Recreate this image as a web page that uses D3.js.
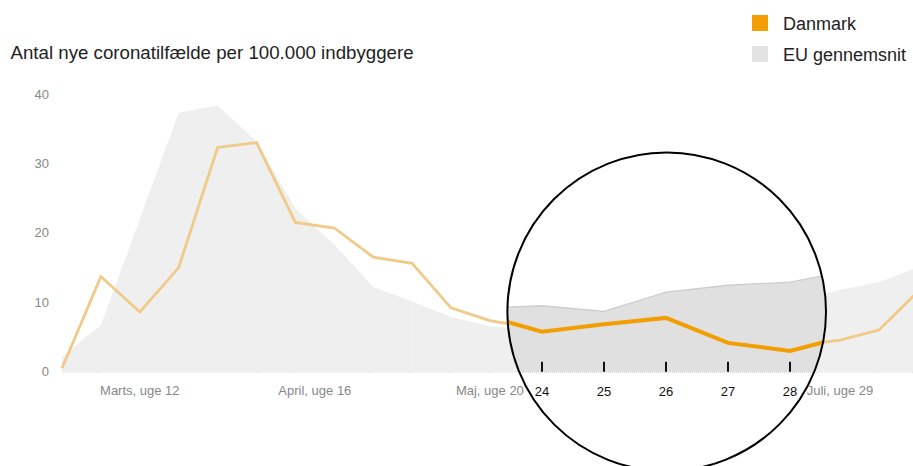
<!DOCTYPE html>
<html>
<head>
<meta charset="utf-8">
<script src="https://cdn.jsdelivr.net/npm/d3@7"></script>
<style>
  html, body { margin: 0; padding: 0; background: #fff; }
  svg { display: block; font-family: "Liberation Sans", Arial, Helvetica, sans-serif; }
</style>
</head>
<body>
<svg id="chart" width="913" height="466"></svg>
<script>
// ---- data ----
const weeks = [10,11,12,13,14,15,16,17,18,19,20,21,22,23,24,25,26,27,28,29,30,31,32];
const danmark = [0.5,13.7,8.6,15.0,32.3,33.0,21.5,20.7,16.5,15.6,9.2,7.35,6.4,6.0,5.75,6.8,7.7,4.2,3.0,3.8,4.55,6.0,11.5];
const euAvg   = [2.2,6.7,22.0,37.3,38.3,33.2,23.5,18.3,12.2,10.1,7.9,6.5,6.3,7.0,7.5,8.0,8.8,9.5,10.0,10.3,11.8,12.9,15.0];

const lensWeeks   = [23,24,25,26,27,28,29];
const lensDanmark = [8.3,5.75,6.85,7.75,4.15,3.0,5.3];
const lensEU      = [9.1,9.5,8.7,11.45,12.45,12.9,14.6];
const lensTicks   = [24,25,26,27,28];

const yTicks = [0,10,20,30,40];
const xLabels = [
  {week: 12,   text: "Marts, uge 12"},
  {week: 16.5, text: "April, uge 16"},
  {week: 21,   text: "Maj, uge 20"},
  {week: 30,   text: "Juli, uge 29"}
];
const title = "Antal nye coronatilfælde per 100.000 indbyggere";
const legendItems = [
  {name: "Danmark", color: "#f29e02"},
  {name: "EU gennemsnit", color: "#e3e3e3"}
];

// ---- layout ----
const svg = d3.select("#chart");
const x = d3.scaleLinear().domain([10, 32]).range([62, 62 + 22 * 38.9]);
const y = d3.scaleLinear().domain([0, 40]).range([371.7, 94]);
const xl = d3.scaleLinear().domain([26, 27]).range([666, 728]);
const lens = {cx: 666.7, cy: 311.7, r: 159.3};

const defs = svg.append("defs");
defs.append("clipPath").attr("id", "plotClip")
  .append("rect").attr("x", 0).attr("y", 0).attr("width", 913).attr("height", 466);
defs.append("clipPath").attr("id", "lensClip")
  .append("circle").attr("cx", lens.cx).attr("cy", lens.cy).attr("r", lens.r - 1);

// title
svg.append("text").attr("x", 10.5).attr("y", 59).attr("font-size", 18.7)
  .attr("fill", "#222").text(title);

// legend
const lg = svg.append("g");
legendItems.forEach((d, i) => {
  lg.append("rect").attr("x", 752).attr("y", 15 + i * 31).attr("width", 16).attr("height", 16).attr("fill", d.color);
  lg.append("text").attr("x", 783).attr("y", 23.5 + i * 31).attr("dy", "0.35em")
    .attr("font-size", 18).attr("fill", "#222").text(d.name);
});

// y axis labels
svg.append("g").selectAll("text").data(yTicks).join("text")
  .attr("x", 49).attr("y", d => y(d)).attr("dy", "0.35em")
  .attr("text-anchor", "end").attr("font-size", 13).attr("fill", "#888")
  .text(d => d);

// main chart
const main = svg.append("g").attr("clip-path", "url(#plotClip)");
const euData = weeks.map((w, i) => ({w, v: euAvg[i]}));
const dkData = weeks.map((w, i) => ({w, v: danmark[i]}));

main.append("path").datum(euData)
  .attr("fill", "#efefef")
  .attr("d", d3.area().x(d => x(d.w)).y0(y(0)).y1(d => y(d.v)));

// faint seams
main.append("g").selectAll("line").data(euData.slice(1, -1)).join("line")
  .attr("x1", d => x(d.w)).attr("x2", d => x(d.w))
  .attr("y1", y(0)).attr("y2", d => y(d.v))
  .attr("stroke", "#f3f3f3").attr("stroke-width", 0.5);

main.append("line").attr("x1", x(10)).attr("x2", 913).attr("y1", y(0) + 0.5).attr("y2", y(0) + 0.5)
  .attr("stroke", "#d8d8d8").attr("stroke-dasharray", "1,1");

main.append("path").datum(dkData)
  .attr("fill", "none").attr("stroke", "#f0ca88").attr("stroke-width", 2.8)
  .attr("stroke-linejoin", "miter")
  .attr("d", d3.line().x(d => x(d.w)).y(d => y(d.v)));

// x labels
svg.append("g").selectAll("text").data(xLabels).join("text")
  .attr("x", d => x(d.week)).attr("y", 390).attr("dy", "0.35em")
  .attr("text-anchor", "middle").attr("font-size", 13).attr("fill", "#888")
  .text(d => d.text);

// lens
svg.append("circle").attr("cx", lens.cx).attr("cy", lens.cy).attr("r", lens.r).attr("fill", "#fff");
const lg2 = svg.append("g").attr("clip-path", "url(#lensClip)");
const lEU = lensWeeks.map((w, i) => ({w, v: lensEU[i]}));
const lDK = lensWeeks.map((w, i) => ({w, v: lensDanmark[i]}));

lg2.append("path").datum(lEU).attr("fill", "#e0e0e0")
  .attr("d", d3.area().x(d => xl(d.w)).y0(y(0)).y1(d => y(d.v)));
lg2.append("path").datum(lEU).attr("fill", "none").attr("stroke", "#cdcdcd").attr("stroke-width", 1.3)
  .attr("d", d3.line().x(d => xl(d.w)).y(d => y(d.v)));
lg2.append("line").attr("x1", 400).attr("x2", 913).attr("y1", y(0) + 0.5).attr("y2", y(0) + 0.5)
  .attr("stroke", "#c4c4c4").attr("stroke-dasharray", "1,1");
lg2.append("path").datum(lDK).attr("fill", "none").attr("stroke", "#f29e02").attr("stroke-width", 4)
  .attr("d", d3.line().x(d => xl(d.w)).y(d => y(d.v)));

lg2.append("g").selectAll("line").data(lensTicks).join("line")
  .attr("x1", d => xl(d)).attr("x2", d => xl(d))
  .attr("y1", y(0) - 10).attr("y2", y(0))
  .attr("stroke", "#111").attr("stroke-width", 2);
lg2.append("g").selectAll("text").data(lensTicks).join("text")
  .attr("x", d => xl(d)).attr("y", 391.5).attr("dy", "0.35em")
  .attr("text-anchor", "middle").attr("font-size", 13).attr("fill", "#111")
  .text(d => d);

svg.append("circle").attr("cx", lens.cx).attr("cy", lens.cy).attr("r", lens.r)
  .attr("fill", "none").attr("stroke", "#000").attr("stroke-width", 2);
</script>
</body>
</html>
